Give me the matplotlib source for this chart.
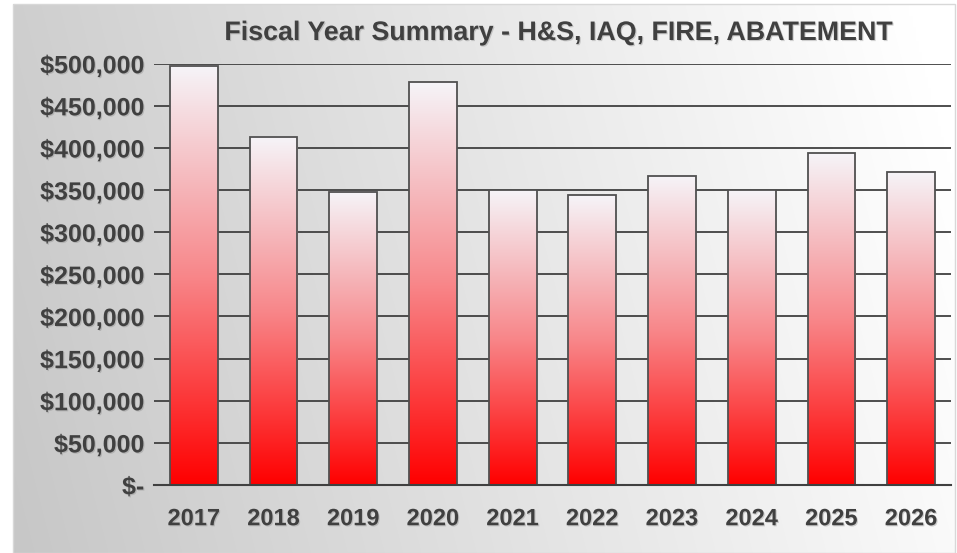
import numpy as np
import matplotlib
matplotlib.use("Agg")
import matplotlib.pyplot as plt
import matplotlib.patheffects as pe
from matplotlib.colors import LinearSegmentedColormap
from matplotlib.patches import Rectangle
from matplotlib.ticker import FuncFormatter

# chart data
years = ['2017', '2018', '2019', '2020', '2021', '2022', '2023', '2024', '2025', '2026']
totals = [497600, 413400, 348300, 477700, 350000, 344000, 367300, 349800, 394000, 371500]
title = 'Fiscal Year Summary - H&S, IAQ, FIRE, ABATEMENT'

plt.rcParams['font.family'] = ['Liberation Sans', 'DejaVu Sans']
text_color = '#404040'
line_color = '#404040'
shadow = [pe.withSimplePatchShadow(offset=(0.8, -0.8), shadow_rgbFace='#808080', alpha=0.35)]

fig = plt.figure(figsize=(9.57, 5.53), dpi=100)
fig.patch.set_facecolor('white')

# gray gradient background inside the chart border
bg = fig.add_axes([0, 0, 1, 1], zorder=0)
bg.set_axis_off()
gx, gy = np.meshgrid(np.linspace(0, 1, 300), np.linspace(0, 1, 200))
shade = 0.78 + 0.2 * gx + 0.03 * gy
shade = np.clip(shade, 0, 1)
bg.imshow(np.dstack([shade, shade, shade]), extent=[13 / 957, 955 / 957, 0, 1 - 4 / 553],
          aspect='auto', origin='lower', interpolation='bilinear')
bg.add_patch(Rectangle((13 / 957, 0), 942 / 957, 1 - 4 / 553, fill=False,
                       edgecolor='#d8d8d8', linewidth=1))
bg.set_xlim(0, 1)
bg.set_ylim(0, 1)

ax = fig.add_axes([154 / 957, 1 - 485 / 553, (951 - 154) / 957, (485 - 63.7) / 553], zorder=1)
ax.patch.set_alpha(0)

x = np.arange(len(years))
width = 0.6
bars = ax.bar(x, totals, width=width, facecolor='none', edgecolor='#505050',
              linewidth=1.3, zorder=3)

# vertical red-to-white gradient in each bar
cmap = LinearSegmentedColormap.from_list(
    'redwhite', [(0, '#ff0000'), (0.5, '#f8878a'), (0.75, '#f5bec2'), (1, '#f6f4f8')])
grad = np.linspace(0, 1, 256).reshape(-1, 1)
for b in bars:
    x0 = b.get_x()
    h = b.get_height()
    ax.imshow(grad, extent=[x0, x0 + b.get_width(), 0, h], cmap=cmap, aspect='auto',
              origin='lower', zorder=2, interpolation='bilinear')

ax.set_xlim(-0.5, len(years) - 0.5)
ax.set_ylim(0, 500000)
ax.set_yticks(np.arange(0, 500001, 50000))
ax.yaxis.set_major_formatter(FuncFormatter(lambda v, p: '$-' if v == 0 else '${:,.0f}'.format(v)))
ax.set_xticks(x)
ax.set_xticklabels(years)

ax.grid(axis='y', color=line_color, linewidth=1.3, zorder=1)
ax.set_axisbelow(True)
for side in ['left', 'right', 'top']:
    ax.spines[side].set_visible(False)
ax.spines['bottom'].set_color(line_color)
ax.spines['bottom'].set_linewidth(1.5)
ax.spines['bottom'].set_zorder(4)
ax.tick_params(axis='both', length=0, colors=text_color)
ax.tick_params(axis='y', pad=7, labelsize=18)
ax.tick_params(axis='x', pad=16, labelsize=17)
for lab in ax.get_xticklabels() + ax.get_yticklabels():
    lab.set_fontweight('bold')
    lab.set_path_effects(shadow)

fig.text(557 / 957, 1 - 33 / 553, title, ha='center', va='center', fontsize=19.3,
         fontweight='bold', color=text_color, path_effects=shadow)

fig.savefig('out.png', dpi=100)
